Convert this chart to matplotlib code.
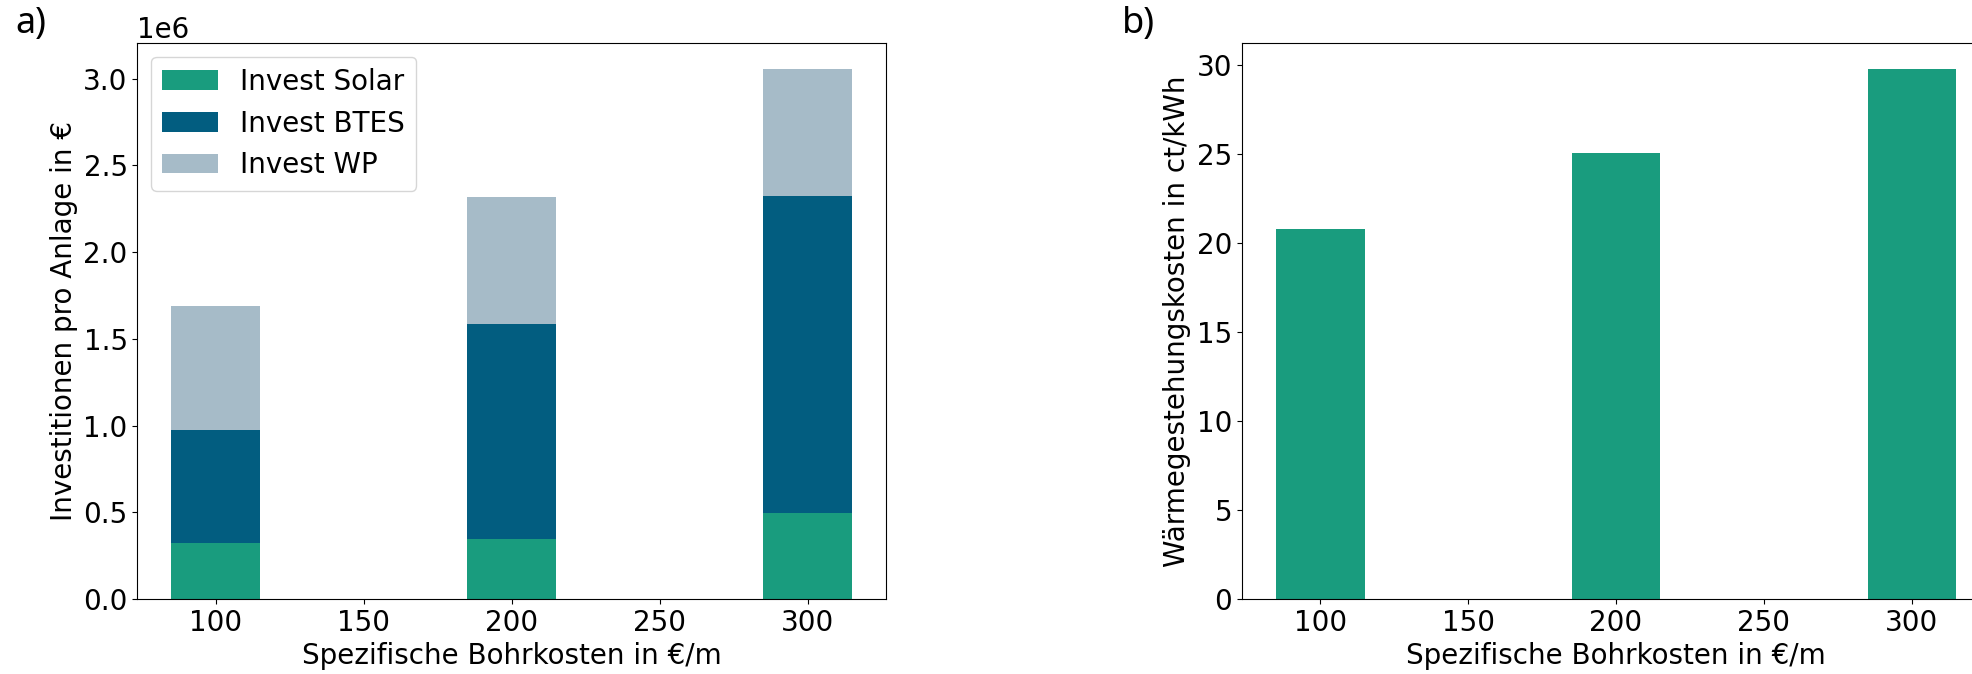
import matplotlib.pyplot as plt
import numpy as np

# Plot formatting constants
BASE_FONT = 20
PANEL_FONT = 26
FIGSIZE = (19.72, 6.74)

# Data
bohrkosten = [100, 200, 300]  # €/m
invest_solar = [0.3225e6, 0.3455e6, 0.495e6]
invest_btes = [0.6545e6, 1.2375e6, 1.826e6]
invest_wp = [0.710e6, 0.732e6, 0.734e6]
waermekosten = [20.77, 25.05, 29.76]  # ct/kWh

COLOR_SOLAR = '#199c7e'
COLOR_BTES = '#025d80'
COLOR_WP = '#a6bbc8'


def main():
    fig = plt.figure(figsize=FIGSIZE, dpi=100)
    ax1 = fig.add_axes([0.0697, 0.1113, 0.3796, 0.8254])
    ax2 = fig.add_axes([0.6297, 0.1113, 0.3796, 0.8254])

    x = np.array(bohrkosten, dtype=float)
    solar = np.array(invest_solar)
    btes = np.array(invest_btes)
    wp = np.array(invest_wp)
    w = 30

    # a) stacked investments
    ax1.bar(x, solar, w, color=COLOR_SOLAR, label='Invest Solar')
    ax1.bar(x, btes, w, bottom=solar, color=COLOR_BTES, label='Invest BTES')
    ax1.bar(x, wp, w, bottom=solar + btes, color=COLOR_WP, label='Invest WP')
    ax1.set_xlabel('Spezifische Bohrkosten in €/m', fontsize=BASE_FONT)
    ax1.set_ylabel('Investitionen pro Anlage in €', fontsize=BASE_FONT)
    ax1.tick_params(axis='both', labelsize=BASE_FONT)
    ax1.yaxis.get_offset_text().set_fontsize(BASE_FONT)
    ax1.legend(loc='upper left', fontsize=BASE_FONT)

    # b) heat generation costs
    ax2.bar(x, waermekosten, w, color=COLOR_SOLAR)
    ax2.set_xlabel('Spezifische Bohrkosten in €/m', fontsize=BASE_FONT)
    ax2.set_ylabel('Wärmegestehungskosten in ct/kWh', fontsize=BASE_FONT)
    ax2.tick_params(axis='both', labelsize=BASE_FONT)

    fig.text(15 / 1972, 1 - 33 / 674, 'a)', fontsize=PANEL_FONT, family='Noto Sans',
             ha='left', va='baseline')
    fig.text(1122 / 1972, 1 - 33 / 674, 'b)', fontsize=PANEL_FONT, family='Noto Sans',
             ha='left', va='baseline')

    fig.savefig('out.png', dpi=100)
    plt.close(fig)


if __name__ == '__main__':
    main()
